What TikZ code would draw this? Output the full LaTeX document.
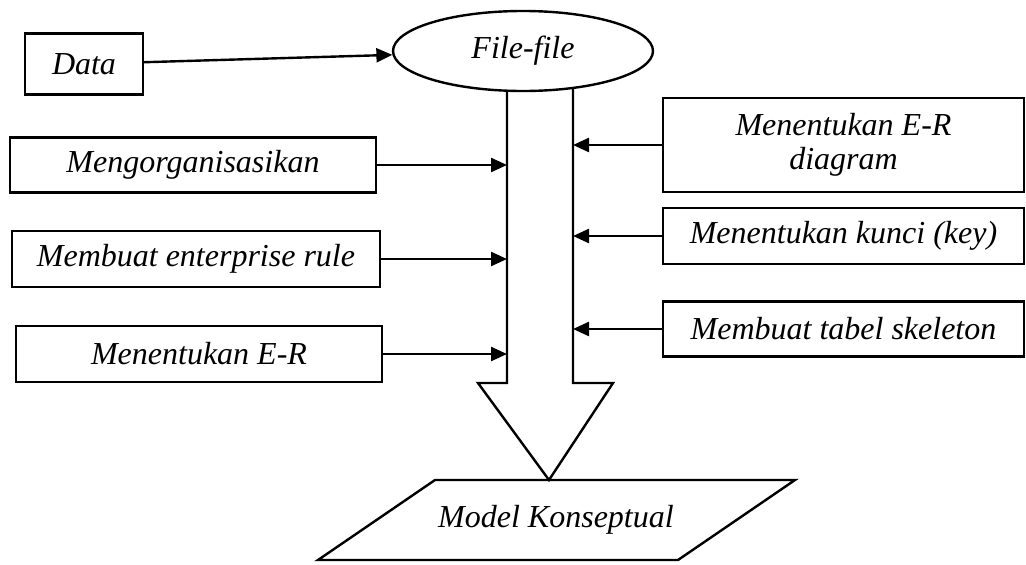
\documentclass[tikz,border=0pt]{standalone}
\usepackage{fontspec}
\setmainfont{Liberation Serif}
\usetikzlibrary{arrows.meta,shapes.geometric}
\begin{document}
\begin{tikzpicture}[x=1pt,y=-1pt,
  txt/.style={font=\fontsize{32}{34}\selectfont\itshape},
  box/.style={txt,draw,line width=2.4pt,rectangle,inner sep=0pt,align=center,fill=white},
  conn/.style={line width=2.4pt,-{Triangle[length=16pt,width=14pt]}},
  outline/.style={line width=2.4pt,line join=miter}]
\useasboundingbox (0,0) rectangle (1026,565);
% big arrow
\coordinate (slt) at (507,70);
\coordinate (srt) at (573,70);
\coordinate (sl) at (507,383);
\coordinate (sr) at (573,383);
\coordinate (wl) at (478,383);
\coordinate (wr) at (613,383);
\coordinate (tip) at (549,480);
\draw[outline] (slt) -- (sl) -- (wl) -- (tip) -- (wr) -- (sr) -- (srt);
% nodes
\node[box,minimum width=118pt,minimum height=61pt] (data) at (84,64) {Data};
\node[box,ellipse,minimum width=260pt,minimum height=80pt] (file) at (523,51) {File-file};
\node[box,minimum width=366pt,minimum height=55pt] (org) at (193,165) {Mengorganisasikan};
\node[box,minimum width=368pt,minimum height=56pt] (ent) at (196,259) {Membuat enterprise rule};
\node[box,minimum width=366pt,minimum height=56pt] (erl) at (199,354) {Menentukan E-R};
\node[box,minimum width=361pt,minimum height=94pt] (erd) at (843.5,145) {Menentukan E-R\\diagram};
\node[box,minimum width=361pt,minimum height=56pt] (key) at (843.5,236) {Menentukan kunci (key)};
\node[box,minimum width=361pt,minimum height=55pt] (skel) at (843.5,329) {Membuat tabel skeleton};
% parallelogram
\coordinate (pa) at (435,480);
\coordinate (pb) at (795,480);
\coordinate (pc) at (678,560);
\coordinate (pd) at (318,560);
\draw[outline] (pa) -- (pb) -- (pc) -- (pd) -- cycle;
\node[txt] (model) at (556,520) {Model Konseptual};
% connectors
\draw[conn] (data) -- (file);
\draw[conn] (org.east) -- (org.east -| sl);
\draw[conn] (ent.east) -- (ent.east -| sl);
\draw[conn] (erl.east) -- (erl.east -| sl);
\draw[conn] (erd.west) -- (erd.west -| sr);
\draw[conn] (key.west) -- (key.west -| sr);
\draw[conn] (skel.west) -- (skel.west -| sr);
\end{tikzpicture}
\end{document}
